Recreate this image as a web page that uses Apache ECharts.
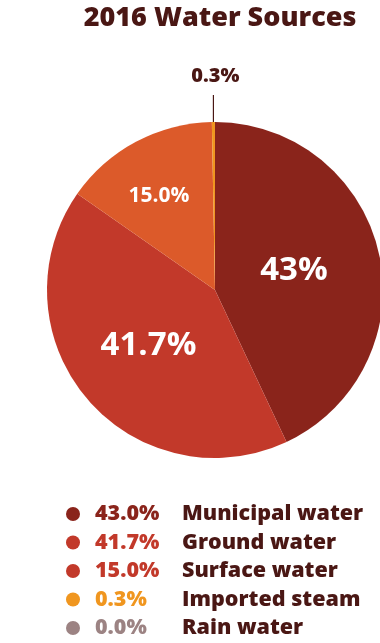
<!DOCTYPE html>
<html><head><meta charset="utf-8">
<script src="https://cdn.jsdelivr.net/npm/echarts@6/dist/echarts.min.js"></script>
<style>html,body{margin:0;padding:0;background:#fff}#c{width:380px;height:643px}</style>
</head><body><div id="c"></div>
<script>
const titleText = '2016 Water Sources';
const names = ['Municipal water', 'Ground water', 'Surface water', 'Imported steam', 'Rain water'];
const values = [43.0, 41.7, 15.0, 0.3, 0.0];
const sliceLabels = ['43%', '41.7%', '15.0%', '0.3%', ''];
const legendPct = ['43.0%', '41.7%', '15.0%', '0.3%', '0.0%'];
const sliceColors = ['#8A241B', '#C2392A', '#DC5A2A', '#F0961F', '#9C8383'];
const legendColors = ['#8A241B', '#C2392A', '#C2392A', '#F0961F', '#9C8383'];

const dark = '#4A1714';
const font = 'Open Sans';
const cx = 215, cy = 290, R = 168;

const rich = { n: { fontFamily: font, fontWeight: 800, fontSize: 21.5, color: dark } };
legendColors.forEach((c, i) => {
  rich['p' + i] = { fontFamily: font, fontWeight: 800, fontSize: 21.5, color: c, width: 87, padding: [0, 0, 0, 10] };
});

const data = names.map((n, i) => {
  const d = { name: n, value: values[i], itemStyle: { color: sliceColors[i] } };
  if (i === 0 || i === 1) d.label = { fontSize: 33 };
  if (i === 2) d.label = { fontSize: 21 };
  if (i === 3) {
    d.label = { position: 'outside', color: dark, fontSize: 20, fontWeight: 800 };
    d.labelLine = { show: true, length: 27, length2: 0, lineStyle: { color: dark, width: 1.2 } };
  }
  if (i === 4) d.label = { show: false };
  return d;
});

const chart = echarts.init(document.getElementById('c'), null, { renderer: 'canvas' });
chart.setOption({
  animation: false,
  title: {
    text: titleText, left: cx, top: 0, textAlign: 'center',
    textStyle: { fontFamily: font, fontWeight: 800, fontSize: 27, color: dark }
  },
  legend: {
    orient: 'vertical', left: 66, top: 503, height: 140, padding: 0, itemGap: 6.5,
    icon: 'circle', itemWidth: 14, itemHeight: 14,
    data: names.map((n, i) => ({ name: n, itemStyle: { color: legendColors[i] } })),
    formatter: (name) => { const i = names.indexOf(name); return '{p' + i + '|' + legendPct[i] + '}{n|' + name + '}'; },
    textStyle: { rich: rich },
    selectedMode: false
  },
  series: [{
    type: 'pie', center: [cx, cy], radius: [0, R], startAngle: 90, clockwise: true,
    avoidLabelOverlap: false, minAngle: 0,
    itemStyle: { borderWidth: 0 },
    label: {
      show: true, position: 'inside', color: '#fff', fontFamily: font, fontWeight: 'bold',
      formatter: (p) => sliceLabels[p.dataIndex]
    },
    labelLine: { show: false },
    labelLayout: (p) => {
      if (p.dataIndex === 3) {
        const a = (90 - (values[0] + values[1] + values[2] + values[3] / 2) / 100 * 360) * Math.PI / 180;
        const x0 = cx + R * Math.cos(a), y0 = cy - R * Math.sin(a);
        return { x: x0 + 2, y: 76, align: 'center', verticalAlign: 'middle',
          labelLinePoints: [[x0, y0], [x0, 95], [x0, 95]] };
      }
      if (p.dataIndex === 2) return { dx: -15, dy: -17 };
      if (p.dataIndex === 0) return { dx: -6, dy: 0 };
      return {};
    },
    data: data
  }]
});
</script></body></html>
